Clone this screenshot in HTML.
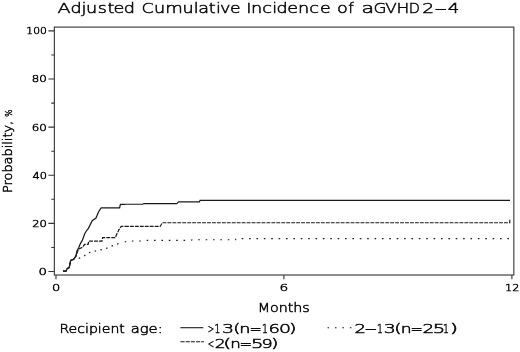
<!DOCTYPE html>
<html><head><meta charset="utf-8"><title>Adjusted Cumulative Incidence of aGVHD2-4</title>
<style>
html,body{margin:0;padding:0;background:#fff;}
svg{display:block}
text{font-family:"DejaVu Sans Light","DejaVu Sans","Liberation Sans",sans-serif;font-weight:200;fill:#0a0a0a;stroke:#0a0a0a;stroke-width:0.5px;}
.ax{stroke:#333;stroke-width:1.1;fill:none}
.cv{stroke:#1a1a1a;stroke-width:1.1;fill:none;stroke-linejoin:miter}
.cr{stroke-width:1.25}
</style></head>
<body>
<svg width="520" height="352" viewBox="0 0 520 352">
<rect width="520" height="352" fill="#fff"/>
<text font-size="14" y="13.0"><tspan x="57.53" textLength="13.11" lengthAdjust="spacingAndGlyphs">A</tspan><tspan x="70.5" textLength="11.2" lengthAdjust="spacingAndGlyphs">d</tspan><tspan x="81.52" textLength="4.9" lengthAdjust="spacingAndGlyphs">j</tspan><tspan x="85.91" textLength="11.18" lengthAdjust="spacingAndGlyphs">u</tspan><tspan x="97.67" textLength="9.19" lengthAdjust="spacingAndGlyphs">s</tspan><tspan x="107.42" textLength="6.92" lengthAdjust="spacingAndGlyphs">t</tspan><tspan x="113.4" textLength="10.85" lengthAdjust="spacingAndGlyphs">e</tspan><tspan x="123.79" textLength="11.23" lengthAdjust="spacingAndGlyphs">d</tspan> <tspan x="141.55" textLength="12.2" lengthAdjust="spacingAndGlyphs">C</tspan><tspan x="154.11" textLength="11.18" lengthAdjust="spacingAndGlyphs">u</tspan><tspan x="165.26" textLength="17.56" lengthAdjust="spacingAndGlyphs">m</tspan><tspan x="182.51" textLength="11.18" lengthAdjust="spacingAndGlyphs">u</tspan><tspan x="193.7" textLength="4.9" lengthAdjust="spacingAndGlyphs">l</tspan><tspan x="198.35" textLength="10.81" lengthAdjust="spacingAndGlyphs">a</tspan><tspan x="208.72" textLength="6.92" lengthAdjust="spacingAndGlyphs">t</tspan><tspan x="216.12" textLength="4.9" lengthAdjust="spacingAndGlyphs">i</tspan><tspan x="220.08" textLength="10.44" lengthAdjust="spacingAndGlyphs">v</tspan><tspan x="230.14" textLength="10.56" lengthAdjust="spacingAndGlyphs">e</tspan> <tspan x="246.16" textLength="5.2" lengthAdjust="spacingAndGlyphs">I</tspan><tspan x="250.9" textLength="11.18" lengthAdjust="spacingAndGlyphs">n</tspan><tspan x="262.29" textLength="9.7" lengthAdjust="spacingAndGlyphs">c</tspan><tspan x="272.22" textLength="4.9" lengthAdjust="spacingAndGlyphs">i</tspan><tspan x="276.4" textLength="11.2" lengthAdjust="spacingAndGlyphs">d</tspan><tspan x="287.2" textLength="10.85" lengthAdjust="spacingAndGlyphs">e</tspan><tspan x="298.1" textLength="11.18" lengthAdjust="spacingAndGlyphs">n</tspan><tspan x="309.29" textLength="9.7" lengthAdjust="spacingAndGlyphs">c</tspan><tspan x="320.13" textLength="10.69" lengthAdjust="spacingAndGlyphs">e</tspan> <tspan x="337.1" textLength="10.79" lengthAdjust="spacingAndGlyphs">o</tspan><tspan x="348.18" textLength="5.57" lengthAdjust="spacingAndGlyphs">f</tspan> <tspan x="361.61" textLength="12.62" lengthAdjust="spacingAndGlyphs">a</tspan><tspan x="373.4" textLength="12.98" lengthAdjust="spacingAndGlyphs">G</tspan><tspan x="385.29" textLength="11.46" lengthAdjust="spacingAndGlyphs">V</tspan><tspan x="396.44" textLength="12.77" lengthAdjust="spacingAndGlyphs">H</tspan><tspan x="408.74" textLength="11.18" lengthAdjust="spacingAndGlyphs">D</tspan><tspan x="422.29" textLength="11.99" lengthAdjust="spacingAndGlyphs">2</tspan><tspan x="434.26" textLength="12.89" lengthAdjust="spacingAndGlyphs">-</tspan><tspan x="447.81" textLength="11.54" lengthAdjust="spacingAndGlyphs">4</tspan></text>
<rect class="ax" x="54.35" y="27.1" width="459.5" height="247.9"/>
<path class="ax" d="M48.4,271.5H54.35M48.4,223.38H54.35M48.4,175.26H54.35M48.4,127.14H54.35M48.4,79.02H54.35M48.4,30.9H54.35M51.3,247.44H54.35M51.3,199.32H54.35M51.3,151.2H54.35M51.3,103.08H54.35M51.3,54.96H54.35M56.0,275.0V279.3M283.9,275.0V279.3M511.9,275.0V279.3"/>
<text font-size="9.2" y="34.3"><tspan x="26.32" textLength="20.47" lengthAdjust="spacingAndGlyphs">100</tspan></text>
<text font-size="9.2" y="82.42"><tspan x="31.89" textLength="15.01" lengthAdjust="spacingAndGlyphs">80</tspan></text>
<text font-size="9.2" y="130.54"><tspan x="31.85" textLength="15.05" lengthAdjust="spacingAndGlyphs">60</tspan></text>
<text font-size="9.2" y="178.66"><tspan x="32.45" textLength="14.4" lengthAdjust="spacingAndGlyphs">40</tspan></text>
<text font-size="9.2" y="226.78"><tspan x="32.2" textLength="14.67" lengthAdjust="spacingAndGlyphs">20</tspan></text>
<text font-size="9.2" y="274.9"><tspan x="38.62" textLength="8.41" lengthAdjust="spacingAndGlyphs">0</tspan></text>
<text font-size="9.2" y="290.9"><tspan x="52.04" textLength="8.27" lengthAdjust="spacingAndGlyphs">0</tspan></text>
<text font-size="9.2" y="290.9"><tspan x="279.57" textLength="8.72" lengthAdjust="spacingAndGlyphs">6</tspan></text>
<text font-size="9.2" y="290.9"><tspan x="504.96" textLength="14.37" lengthAdjust="spacingAndGlyphs">12</tspan></text>
<text font-size="12" y="311.9"><tspan x="257.71" textLength="52.11" lengthAdjust="spacingAndGlyphs">Months</tspan></text>
<g transform="translate(11.5,0) rotate(-90)">
<text font-size="12" y="0"><tspan x="-192.96" textLength="72.08" lengthAdjust="spacingAndGlyphs">Probability,</tspan> <tspan font-size="9.3"><tspan x="-116.75" textLength="7.11" lengthAdjust="spacingAndGlyphs">%</tspan></tspan></text>
</g>
<path class="cv cr" d="M63.1,271H66.1L67.2,268.6L69.2,267.6L70.7,260.4L73.3,259.4L75.8,256.4L76.9,251.2L78.9,247.2L80.4,243.6L82.5,240L84.8,233.5L87,230L88.4,228.4L92.2,220.7L96,218.1L98.6,211.7L101.2,207.9H119.6L120.4,204.3H125"/>
<path class="cv" d="M125,204.3H142.7L143.7,203.6H176.9L178.5,201.9H199.5L200,200.4H510"/>
<path class="cv cr" stroke-dasharray="3.9 1.1" d="M63.1,271H66.1L67.2,268.6L69.2,267.6L70.7,260.4L73.3,259.4L75.8,256.4L78.4,249.2L82.7,247.2L84.5,244.4H88.1L88.8,241H102L102.6,237.7H115.3L116.9,233.7L118.9,229.8L121.2,226.4H125"/>
<path class="cv" stroke-dasharray="3.9 1.05" d="M125,226.4H160.2L162.2,222.8H509.8V219.6"/>
<path class="cv cr" stroke-dasharray="1.5 4.4" d="M63.1,271H66.1L67.2,268.6L69.2,267.6L70.7,260.4L73.3,259.4L79.4,258.2L84.5,255.8L88.1,252.8L94.5,251.3L100.7,249.8L105.9,248.6L110.3,246.7L116.9,244.1L122.8,242.7"/>
<path class="cv" stroke-dasharray="1.6 5.78" stroke-dashoffset="-2" d="M122.8,242.7L127.8,241H140L147,240.4H190L192.4,239.8H235.5L236,238.6H510"/>
<text font-size="12" y="333.4"><tspan x="59.49" textLength="65.36" lengthAdjust="spacingAndGlyphs">Recipient</tspan> <tspan x="130.69" textLength="31.93" lengthAdjust="spacingAndGlyphs">age:</tspan></text>
<text font-size="12" y="333.4"><tspan x="207.69" textLength="6.42" lengthAdjust="spacingAndGlyphs">&gt;</tspan><tspan x="214.58" textLength="5.9" lengthAdjust="spacingAndGlyphs">1</tspan><tspan x="222.06" textLength="12.02" lengthAdjust="spacingAndGlyphs">3</tspan><tspan x="233.17" textLength="7.24" lengthAdjust="spacingAndGlyphs">(</tspan><tspan x="239.3" textLength="11.2" lengthAdjust="spacingAndGlyphs">n</tspan><tspan x="249.64" textLength="12.31" lengthAdjust="spacingAndGlyphs">=</tspan><tspan x="261.88" textLength="5.9" lengthAdjust="spacingAndGlyphs">1</tspan><tspan x="268.46" textLength="11.4" lengthAdjust="spacingAndGlyphs">6</tspan><tspan x="278.91" textLength="12.05" lengthAdjust="spacingAndGlyphs">0</tspan><tspan x="288.91" textLength="7.46" lengthAdjust="spacingAndGlyphs">)</tspan></text>
<text font-size="12" y="347.6"><tspan x="207.69" textLength="6.42" lengthAdjust="spacingAndGlyphs">&lt;</tspan><tspan x="214.81" textLength="10.9" lengthAdjust="spacingAndGlyphs">2</tspan><tspan x="223.22" textLength="8.12" lengthAdjust="spacingAndGlyphs">(</tspan><tspan x="230.21" textLength="10.59" lengthAdjust="spacingAndGlyphs">n</tspan><tspan x="239.61" textLength="12.58" lengthAdjust="spacingAndGlyphs">=</tspan><tspan x="250.96" textLength="12.54" lengthAdjust="spacingAndGlyphs">5</tspan><tspan x="261.58" textLength="11.26" lengthAdjust="spacingAndGlyphs">9</tspan><tspan x="271.01" textLength="7.46" lengthAdjust="spacingAndGlyphs">)</tspan></text>
<text font-size="12" y="333.4"><tspan x="354.55" textLength="11.45" lengthAdjust="spacingAndGlyphs">2</tspan><tspan x="364.49" textLength="12.61" lengthAdjust="spacingAndGlyphs">-</tspan><tspan x="376.88" textLength="5.9" lengthAdjust="spacingAndGlyphs">1</tspan><tspan x="383.76" textLength="12.02" lengthAdjust="spacingAndGlyphs">3</tspan><tspan x="394.31" textLength="7.46" lengthAdjust="spacingAndGlyphs">(</tspan><tspan x="400.65" textLength="10.89" lengthAdjust="spacingAndGlyphs">n</tspan><tspan x="410.64" textLength="12.31" lengthAdjust="spacingAndGlyphs">=</tspan><tspan x="422.62" textLength="11.72" lengthAdjust="spacingAndGlyphs">2</tspan><tspan x="432.86" textLength="12.54" lengthAdjust="spacingAndGlyphs">5</tspan><tspan x="442.98" textLength="5.9" lengthAdjust="spacingAndGlyphs">1</tspan><tspan x="449.66" textLength="8.34" lengthAdjust="spacingAndGlyphs">)</tspan></text>
<path class="cv" d="M180.4,327.7H203.3"/>
<path class="cv" stroke-dasharray="4.2 1" d="M180.4,341.7H203.9"/>
<path class="cv" stroke-dasharray="1.6 5.85" d="M327.5,327.7H352"/>
</svg>
</body></html>
